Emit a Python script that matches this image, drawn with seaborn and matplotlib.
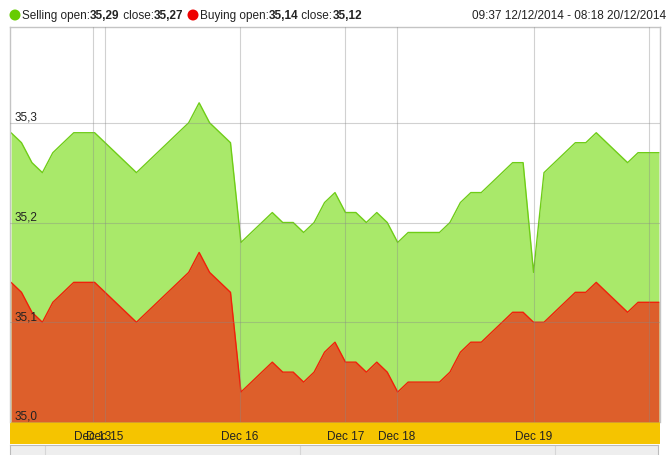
import matplotlib
matplotlib.use("Agg")
import matplotlib.pyplot as plt
import seaborn as sns
import pandas as pd
import numpy as np
from matplotlib.patches import Circle

# ---------------- data ----------------
selling = [35.29, 35.28, 35.26, 35.25, 35.27, 35.28, 35.29, 35.29, 35.29, 35.28,
           35.27, 35.26, 35.25, 35.26, 35.27, 35.28, 35.29, 35.30, 35.32, 35.30,
           35.29, 35.28, 35.18, 35.19, 35.20, 35.21, 35.20, 35.20, 35.19, 35.20,
           35.22, 35.23, 35.21, 35.21, 35.20, 35.21, 35.20, 35.18, 35.19, 35.19,
           35.19, 35.19, 35.20, 35.22, 35.23, 35.23, 35.24, 35.25, 35.26, 35.26,
           35.15, 35.25, 35.26, 35.27, 35.28, 35.28, 35.29, 35.28, 35.27, 35.26,
           35.27, 35.27, 35.27]
buying = [35.14, 35.13, 35.11, 35.10, 35.12, 35.13, 35.14, 35.14, 35.14, 35.13,
          35.12, 35.11, 35.10, 35.11, 35.12, 35.13, 35.14, 35.15, 35.17, 35.15,
          35.14, 35.13, 35.03, 35.04, 35.05, 35.06, 35.05, 35.05, 35.04, 35.05,
          35.07, 35.08, 35.06, 35.06, 35.05, 35.06, 35.05, 35.03, 35.04, 35.04,
          35.04, 35.04, 35.05, 35.07, 35.08, 35.08, 35.09, 35.10, 35.11, 35.11,
          35.10, 35.10, 35.11, 35.12, 35.13, 35.13, 35.14, 35.13, 35.12, 35.11,
          35.12, 35.12, 35.12]
day_ticks = [7.85, 9.0, 21.9, 32.0, 36.9, 50.0, 61.0]
day_labels = ["Dec 13", "Dec 15", "Dec 16", "Dec 17", "Dec 18", "Dec 19", ""]
y_ticks = [35.0, 35.1, 35.2, 35.3]
y_labels = ["35,0", "35,1", "35,2", "35,3"]
period_text = "09:37 12/12/2014 - 08:18 20/12/2014"

df = pd.DataFrame({"idx": np.arange(len(selling)), "selling": selling, "buying": buying})

# ---------------- style ----------------
sns.set_style("white")
plt.rcParams["font.family"] = ["Liberation Sans", "DejaVu Sans"]

W, H = 670, 456
fig = plt.figure(figsize=(W / 100, H / 100), dpi=100)

def fx(px):
    return px / W

def fy(py):
    return 1 - py / H

GREEN_FILL = "#a9e96a"
GREEN_LINE = "#6fcd17"
RED_FILL = "#dd5f2b"
RED_LINE = "#f0200a"
YELLOW = "#f5c400"
TXT = "#222222"
FS = 8.5

# main plot area
ax = fig.add_axes([fx(10), fy(423), fx(660) - fx(10), fy(28) - fy(423)])
ax.set_zorder(2)
ax.set_facecolor("white")

ax.fill_between(df["idx"], 35.0, df["selling"], color=GREEN_FILL, linewidth=0, zorder=1)
sns.lineplot(data=df, x="idx", y="selling", ax=ax, color=GREEN_LINE, linewidth=1.0, zorder=2)
ax.fill_between(df["idx"], 35.0, df["buying"], color=RED_FILL, linewidth=0, zorder=1.5)
sns.lineplot(data=df, x="idx", y="buying", ax=ax, color=RED_LINE, linewidth=1.0, zorder=2.5)

ax.set_xlim(-0.1, 62.1)
ax.set_ylim(35.0, 35.396)

ax.set_yticks(y_ticks)
ax.set_yticklabels(y_labels)
for lab in ax.get_yticklabels():
    lab.set_horizontalalignment("left")
    lab.set_verticalalignment("bottom")
ax.tick_params(axis="y", length=0, pad=-3, labelsize=FS, labelcolor=TXT)

ax.set_xticks(day_ticks)
ax.set_xticklabels(day_labels)
ax.tick_params(axis="x", length=0, pad=6, labelsize=FS, labelcolor=TXT)

ax.grid(True, color="#888888", alpha=0.38, linewidth=0.8, zorder=3)
ax.set_axisbelow(False)
ax.set_xlabel("")
ax.set_ylabel("")

for s in ["top", "left", "right"]:
    ax.spines[s].set_color("#c4c4c4")
    ax.spines[s].set_linewidth(1.0)
ax.spines["bottom"].set_visible(False)

# yellow date band
band = fig.add_axes([fx(10), fy(445), fx(660) - fx(10), fy(423) - fy(445)])
band.set_zorder(1)
band.set_facecolor(YELLOW)
band.set_xticks([])
band.set_yticks([])
for s in band.spines.values():
    s.set_visible(False)

# navigator strip (clipped at bottom)
nav = fig.add_axes([fx(10), fy(496), fx(658) - fx(10), fy(446) - fy(496)])
nav.set_zorder(0)
nav.set_facecolor("#eeeeee")
nav.set_xlim(10, 658)
nav.set_ylim(0, 1)
for xv in [45, 300, 555]:
    nav.axvline(xv, color="#d6d6d6", linewidth=0.8)
nav.set_xticks([])
nav.set_yticks([])
for s in nav.spines.values():
    s.set_color("#bbbbbb")

# header legend
r = fig.canvas.get_renderer()

def runs(x_px, y_px, parts, size=FS):
    x = x_px
    for s, w in parts:
        t = fig.text(fx(x), fy(y_px), s, fontsize=size, fontweight=w, color=TXT,
                     ha="left", va="center")
        bb = t.get_window_extent(renderer=r)
        x += bb.width
    return x

fig.patches.append(Circle((15 / 100, (H - 16) / 100), 0.055, transform=fig.dpi_scale_trans,
                          facecolor="#66cc00", edgecolor="none"))
runs(22, 16, [("Selling open:", "normal"), (f"{selling[0]:.2f}".replace(".", ","), "bold"),
              (" close:", "normal"), (f"{selling[-1]:.2f}".replace(".", ","), "bold")])
fig.patches.append(Circle((193 / 100, (H - 16) / 100), 0.055, transform=fig.dpi_scale_trans,
                          facecolor="#ee0000", edgecolor="none"))
runs(200, 16, [("Buying open:", "normal"), (f"{buying[0]:.2f}".replace(".", ","), "bold"),
               (" close:", "normal"), (f"{buying[-1]:.2f}".replace(".", ","), "bold")])
fig.text(fx(666), fy(16), period_text, fontsize=FS, color=TXT, ha="right", va="center")

fig.savefig("out.png", dpi=100)
